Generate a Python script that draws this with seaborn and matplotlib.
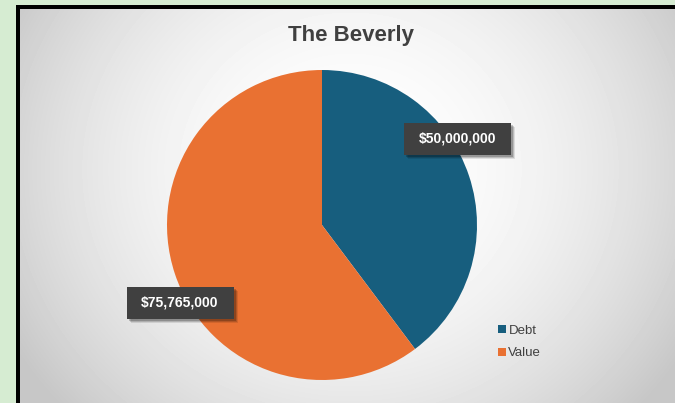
import numpy as np
import matplotlib
matplotlib.use("Agg")
import matplotlib.pyplot as plt
import seaborn as sns
from matplotlib.patches import Rectangle

categories = ["Debt", "Value"]
values = [50000000, 75765000]
labels = ["$50,000,000", "$75,765,000"]
title = "The Beverly"

sns.set_theme(style="white")
plt.rcParams['font.family'] = ['Liberation Sans', 'DejaVu Sans']
colors = ["#175e7e", "#e97132"]

W, H = 675, 403
fig = plt.figure(figsize=(W / 100, H / 100), dpi=100, facecolor="#d6ecd2")

def px_axes(x0, y0, x1, y1):
    return fig.add_axes([x0 / W, 1 - y1 / H, (x1 - x0) / W, (y1 - y0) / H])

# black frame
fa = px_axes(16, 5, 675, 403)
fa.set_facecolor("black"); fa.set_xticks([]); fa.set_yticks([])
for s in fa.spines.values(): s.set_visible(False)

# gradient panel
ga = px_axes(20, 9, 675, 403)
yy, xx = np.mgrid[0:394, 0:655]
cx, cy = 330, 160
d2 = ((xx - cx) / 360.0) ** 2 + ((yy - cy) / 330.0) ** 2
g = np.clip(1.0 - 0.19 * d2, 0.78, 1.0)
ga.imshow(g, cmap="gray", vmin=0, vmax=1, aspect="auto", interpolation="bilinear")
ga.set_axis_off()

# pie
cxp, cyp, r = 322, 225, 155
ax = px_axes(cxp - r, cyp - r, cxp + r, cyp + r)
ax.set_facecolor("none")
ax.pie(values, colors=colors, startangle=90, counterclock=False, radius=1.0,
       wedgeprops=dict(linewidth=0))
ax.set_xlim(-1, 1); ax.set_ylim(-1, 1)
ax.set_aspect("auto")
ax.set_axis_off()

u = 1.0 / r  # one pixel in data units
bw, bh = 107 * u, 32 * u
label_pos = [(0.877, 0.555), (-0.916, -0.503)]
for (lx, ly), lab in zip(label_pos, labels):
    # soft shadow
    for k, a in [(4, 0.10), (3, 0.15), (2, 0.2)]:
        ax.add_patch(Rectangle((lx - bw / 2 + k * u, ly - bh / 2 - k * u), bw, bh,
                               fc="black", ec="none", alpha=a, clip_on=False))
    ax.add_patch(Rectangle((lx - bw / 2, ly - bh / 2), bw, bh, fc="#404040",
                           ec="none", clip_on=False))
    ax.text(lx, ly, lab, ha="center", va="center", fontsize=10, fontweight="bold",
            color="white", clip_on=False)

fig.text(351 / W, 1 - 36 / H, title, ha="center", va="center", fontsize=16,
         fontweight="bold", color="#404040")

handles = [Rectangle((0, 0), 1, 1, fc=c, ec="none") for c in colors]
leg = fig.legend(handles, categories, loc="upper left",
                 bbox_to_anchor=(486 / W, 1 - 313 / H), frameon=False,
                 fontsize=9.5, handlelength=0.6, handleheight=0.6,
                 handletextpad=0.2, labelspacing=0.8)
for t in leg.get_texts():
    t.set_color("#404040")

fig.savefig("out.png", dpi=100, facecolor=fig.get_facecolor())
